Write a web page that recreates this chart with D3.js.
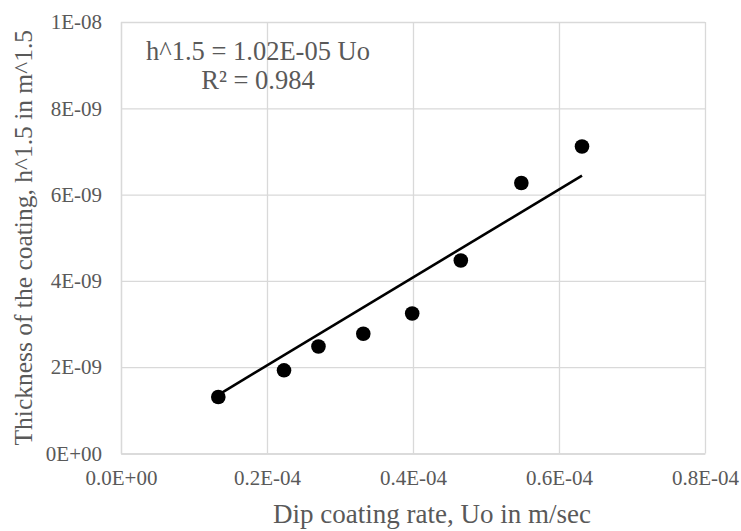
<!DOCTYPE html>
<html>
<head>
<meta charset="utf-8">
<script src="https://cdn.jsdelivr.net/npm/d3@7"></script>
<style>
  html, body { margin: 0; padding: 0; background: #ffffff; }
  svg { display: block; }
  text { font-family: "Liberation Serif", serif; fill: #595959; }
</style>
</head>
<body>
<svg id="chart" width="741" height="531"></svg>
<script>
// Dip coating rate (m/s) and coating thickness h^1.5 (m^1.5)
const dipRate = [1.333e-4, 2.233e-4, 2.705e-4, 3.319e-4, 3.989e-4, 4.655e-4, 5.484e-4, 6.315e-4];
const thickness = [1.309e-9, 1.928e-9, 2.480e-9, 2.776e-9, 3.244e-9, 4.473e-9, 6.269e-9, 7.115e-9];

// Linear fit through the origin: h^1.5 = slope * Uo
const slope = 1.02e-5;
const slopeLabel = "1.02E-05";
const rSquared = "0.984";

const xTickValues = [0, 2e-4, 4e-4, 6e-4, 8e-4];
const xTickLabels = ["0.0E+00", "0.2E-04", "0.4E-04", "0.6E-04", "0.8E-04"];
const yTickValues = [0, 2e-9, 4e-9, 6e-9, 8e-9, 1e-8];
const yTickLabels = ["0E+00", "2E-09", "4E-09", "6E-09", "8E-09", "1E-08"];

const xTitle = "Dip coating rate, Uo in m/sec";
const yTitle = "Thickness of the coating, h^1.5 in m^1.5";

const FONT = '"Liberation Serif", serif';
const svg = d3.select("#chart");
const plot = { left: 121, right: 705, top: 22, bottom: 453.5 };

const x = d3.scaleLinear().domain([0, 8e-4]).range([plot.left, plot.right]);
const y = d3.scaleLinear().domain([0, 1e-8]).range([plot.bottom, plot.top]);

const gridColor = "#d9d9d9";

// Horizontal gridlines + y tick labels
const yAxis = d3.axisLeft(y)
  .tickValues(yTickValues)
  .tickFormat((d, i) => yTickLabels[i])
  .tickSize(-(plot.right - plot.left))
  .tickSizeOuter(0)
  .tickPadding(19);
const gy = svg.append("g")
  .attr("transform", `translate(${plot.left},0)`)
  .call(yAxis);

// Vertical gridlines + x tick labels
const xAxis = d3.axisBottom(x)
  .tickValues(xTickValues)
  .tickFormat((d, i) => xTickLabels[i])
  .tickSize(-(plot.bottom - plot.top))
  .tickSizeOuter(0)
  .tickPadding(16.5);
const gx = svg.append("g")
  .attr("transform", `translate(0,${plot.bottom})`)
  .call(xAxis);

[gx, gy].forEach(g => {
  g.attr("font-family", FONT).attr("font-size", 21);
  g.selectAll(".tick line").attr("stroke", gridColor).attr("stroke-width", 1.3);
  g.select(".domain").attr("stroke", gridColor).attr("stroke-width", 1.3);
  g.selectAll(".tick text")
    .attr("fill", "#595959")
    .style("font-family", FONT)
    .style("font-size", "21px");
});

// Fitted trendline across the data range
const xMin = d3.min(dipRate), xMax = d3.max(dipRate);
svg.append("line")
  .attr("x1", x(xMin)).attr("y1", y(slope * xMin))
  .attr("x2", x(xMax)).attr("y2", y(slope * xMax))
  .attr("stroke", "#000").attr("stroke-width", 2.6);

// Measured points
svg.append("g")
  .selectAll("circle")
  .data(dipRate.map((d, i) => [d, thickness[i]]))
  .join("circle")
  .attr("cx", d => x(d[0]))
  .attr("cy", d => y(d[1]))
  .attr("r", 7.3)
  .attr("fill", "#000");

// Fit equation and R²
const eqX = 258;
svg.append("text")
  .attr("x", eqX).attr("y", 60)
  .attr("text-anchor", "middle")
  .style("font-family", FONT)
  .style("font-size", "26.5px")
  .text(`h^1.5 = ${slopeLabel} Uo`);
svg.append("text")
  .attr("x", eqX).attr("y", 88.5)
  .attr("text-anchor", "middle")
  .style("font-family", FONT)
  .style("font-size", "26.5px")
  .text(`R² = ${rSquared}`);

// Axis titles
svg.append("text")
  .attr("x", 432)
  .attr("y", 523)
  .attr("text-anchor", "middle")
  .style("font-family", FONT)
  .style("font-size", "27px")
  .text(xTitle);

svg.append("text")
  .attr("transform", `translate(32,${(plot.top + plot.bottom) / 2}) rotate(-90)`)
  .attr("text-anchor", "middle")
  .style("font-family", FONT)
  .style("font-size", "25.5px")
  .text(yTitle);
</script>
</body>
</html>
